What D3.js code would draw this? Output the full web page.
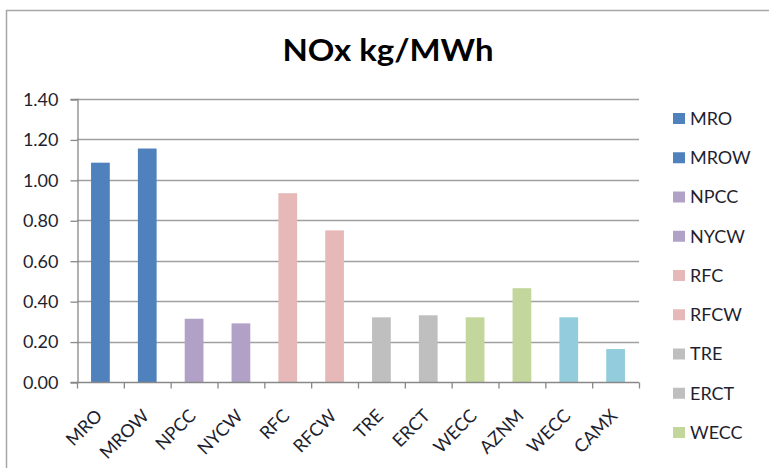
<!DOCTYPE html>
<html><head><meta charset="utf-8">
<script src="https://cdn.jsdelivr.net/npm/d3@7"></script>
<style>
html,body{margin:0;padding:0;background:#fff;}
svg{display:block;}
text{font-family:Lato,"Open Sans",sans-serif;}
</style></head>
<body>
<svg id="chart" width="769" height="468"></svg>
<script>
const categories = ["MRO","MROW","NPCC","NYCW","RFC","RFCW","TRE","ERCT","WECC","AZNM","WECC ","CAMX"];
const values = [1.085, 1.155, 0.313, 0.29, 0.934, 0.75, 0.32, 0.33, 0.32, 0.464, 0.32, 0.163];
const groupColors = ["#4F81BD","#4F81BD","#B2A1C7","#B2A1C7","#E6B9B8","#E6B9B8","#BFBFBF","#BFBFBF","#C3D69B","#C3D69B","#93CDDD","#93CDDD"];
const yTicks = [0,0.2,0.4,0.6,0.8,1.0,1.2,1.4];
const legendLabels = ["MRO","MROW","NPCC","NYCW","RFC","RFCW","TRE","ERCT","WECC"];
const title = "NOx kg/MWh";

const svg = d3.select("#chart");
const W = 769, H = 468;
const m = {left:77, right:639, top:99, bottom:382};
const FS = 18;

// outer chart border
svg.append("rect").attr("x",6.5).attr("y",10.5).attr("width",W+10).attr("height",H+10)
  .attr("fill","none").attr("stroke","#a6a6a6").attr("stroke-width",1.5);

const x = d3.scaleBand().domain(d3.range(categories.length)).range([m.left,m.right]).paddingInner(0.6).paddingOuter(0.3);
const xb = d3.scaleLinear().domain([0,categories.length]).range([m.left,m.right]);
const y = d3.scaleLinear().domain([0,1.4]).range([m.bottom,m.top]);

// gridlines
svg.append("g").selectAll("line").data(yTicks.slice(1)).join("line")
  .attr("x1",m.left).attr("x2",m.right)
  .attr("y1",d=>Math.round(y(d))+0.5).attr("y2",d=>Math.round(y(d))+0.5)
  .attr("stroke","#a0a0a0").attr("stroke-width",1.3);

// bars
svg.append("g").selectAll("rect").data(values).join("rect")
  .attr("x",(d,i)=>x(i)).attr("width",x.bandwidth())
  .attr("y",d=>y(d)).attr("height",d=>y(0)-y(d))
  .attr("fill",(d,i)=>groupColors[i]);

// y axis
const yAxis = d3.axisLeft(y).tickValues(yTicks).tickFormat(d3.format(".2f")).tickSize(7).tickPadding(12);
const gy = svg.append("g").attr("transform",`translate(${m.left+0.5},0)`).call(yAxis);
gy.select(".domain").attr("stroke","#888").attr("stroke-width",1.3);
gy.selectAll(".tick line").attr("stroke","#888").attr("stroke-width",1.3)
  .attr("transform","translate(0,0.5)");
gy.selectAll(".tick text").attr("font-size",FS).attr("fill","#1f1f2f").attr("dy","0.35em");

// x axis baseline and ticks at category boundaries
const xAxis = d3.axisBottom(xb).tickValues(d3.range(categories.length+1)).tickSize(6).tickFormat("");
const gx = svg.append("g").attr("transform",`translate(0,${m.bottom+0.5})`).call(xAxis);
gx.select(".domain").attr("stroke","#888").attr("stroke-width",1.3).attr("d",`M${m.left},0H${m.right}`);
gx.selectAll(".tick line").attr("stroke","#888").attr("stroke-width",1.3);

// x labels rotated
svg.append("g").selectAll("text").data(categories).join("text")
  .attr("transform",(d,i)=>`translate(${x(i)+x.bandwidth()/2+3},${m.bottom+35}) rotate(-45)`)
  .attr("text-anchor","end").attr("font-size",FS).attr("fill","#1f1f2f")
  .text(d=>d.trim());

// title
svg.append("text").attr("x",388).attr("y",61).attr("text-anchor","middle")
  .attr("font-size",31).attr("font-weight","bold").attr("fill","#000")
  .attr("textLength",211).attr("lengthAdjust","spacingAndGlyphs")
  .text(title);

// legend
const ly = d3.scaleLinear().domain([0,legendLabels.length-1]).range([118.5,432.5]);
const lg = svg.append("g").selectAll("g").data(legendLabels).join("g")
  .attr("transform",(d,i)=>`translate(673,${ly(i)})`);
lg.append("rect").attr("x",0).attr("y",-5.5).attr("width",12).attr("height",11)
  .attr("fill",(d,i)=>groupColors[i]);
lg.append("text").attr("x",17).attr("dy","0.36em").attr("font-size",FS).attr("fill","#1f1f2f").text(d=>d);
</script>
</body></html>
